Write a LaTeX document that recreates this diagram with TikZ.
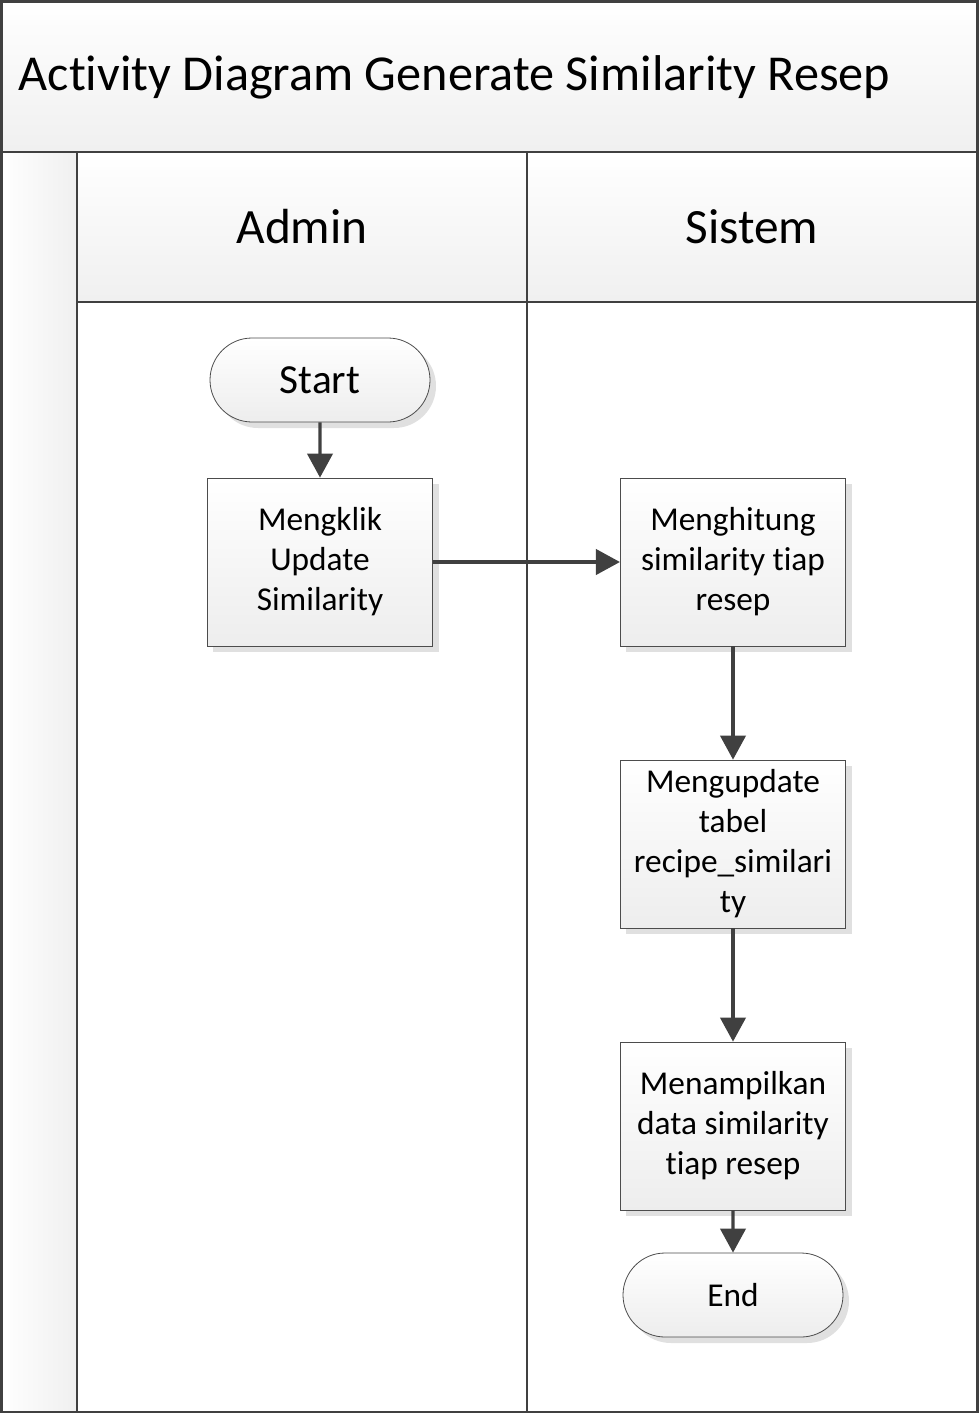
\documentclass[tikz,border=0pt]{standalone}
\usepackage{fontspec}
\setmainfont{Carlito}[Ligatures=NoCommon]
\usetikzlibrary{arrows.meta, positioning, shapes.misc, shadows}

\begin{document}
\begin{tikzpicture}[x=0.75pt, y=-0.75pt,
    frame/.style={draw=black!75, line width=2.2pt},
    band/.style={top color=white, bottom color=black!6},
    act/.style={draw=black!70, line width=0.6pt, top color=white, bottom color=black!7,
      minimum width=169pt, minimum height=126pt, align=center, inner sep=2pt,
      font=\fontsize{25}{30}\selectfont,
      drop shadow={shadow xshift=4.5pt, shadow yshift=-4.5pt, fill=black!12, opacity=1}},
    term/.style={act, rounded rectangle, minimum height=63pt},
    flow/.style={draw=black!75, line width=2.3pt, -{Triangle[length=18pt, width=19pt]}}]
  \useasboundingbox (0,0) rectangle (979,1414);

  % pool and lanes
  \shade[band] (0,0) rectangle (977,152);
  \shade[band] (77,152) rectangle (977,302);
  \shade[left color=white, right color=black!6] (0,152) rectangle (77,1412);
  \draw[frame] (1.5,1.5) rectangle (977.5,1412);
  \draw[frame] (0,152) -- (977,152);
  \draw[frame] (77,302) -- (977,302);
  \draw[frame] (77,152) -- (77,1412);
  \draw[frame] (527,152) -- (527,1412);

  \node[anchor=west, font=\fontsize{37.7}{40}\selectfont] (title) at (14,77) {Activity Diagram Generate Similarity Resep};
  \node[font=\fontsize{37}{40}\selectfont] (admin) at (302,227) {Admin};
  \node[font=\fontsize{37}{40}\selectfont] (sistem) at (752,227) {Sistem};

  % activities
  \node[term, font=\fontsize{31}{34}\selectfont] (start) at (320,380) {Start};
  \node[act] (klik) at (320,562) {Mengklik\\Update\\Similarity};
  \node[act] (hitung) at (733,562) {Menghitung\\similarity tiap\\resep};
  \node[act] (update) at (733,844) {Mengupdate\\tabel\\recipe\_similari\\ty};
  \node[act] (tampil) at (733,1126) {Menampilkan\\data similarity\\tiap resep};
  \node[term] (end) at (733,1295) {End};

  \draw[flow] (start) -- (klik);
  \draw[flow] (klik) -- (hitung);
  \draw[flow] (hitung) -- (update);
  \draw[flow] (update) -- (tampil);
  \draw[flow] (tampil) -- (end);
\end{tikzpicture}
\end{document}
